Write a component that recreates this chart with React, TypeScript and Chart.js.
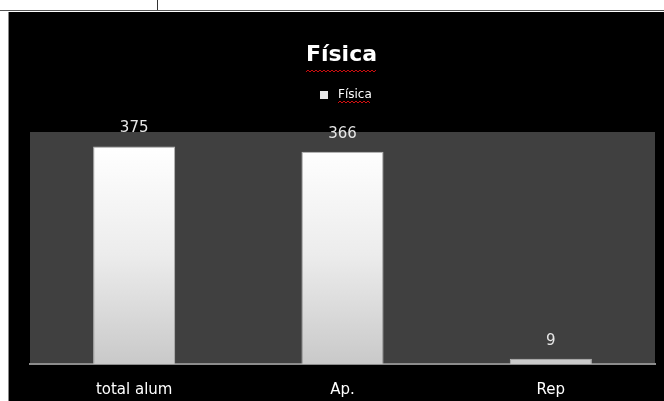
import React, { useEffect, useRef } from 'react';
import { Chart, registerables } from 'chart.js';
Chart.register(...registerables);

const categories = ['total alum', 'Ap.', 'Rep'];
const values = [375, 366, 9];
const seriesName = 'Física';
const titleText = 'Física';
const yMin = 0;
const yMax = 400;

const FONT = '"DejaVu Sans", Verdana, sans-serif';

function squiggle(ctx: CanvasRenderingContext2D, x0: number, x1: number, y: number) {
  ctx.save();
  ctx.strokeStyle = '#d41010';
  ctx.lineWidth = 1;
  ctx.beginPath();
  let up = true;
  ctx.moveTo(x0, y + 2);
  for (let x = x0 + 2; x <= x1; x += 2) {
    ctx.lineTo(x, up ? y : y + 2);
    up = !up;
  }
  ctx.stroke();
  ctx.restore();
}

export default function App() {
  const ref = useRef<HTMLCanvasElement>(null);
  useEffect(() => {
    const canvas = ref.current!;
    const bgPlugin = {
      id: 'bg',
      beforeDraw(chart: any) {
        const { ctx, chartArea: a, width, height } = chart;
        ctx.save();
        ctx.fillStyle = '#000';
        ctx.fillRect(0, 0, width, height);
        ctx.fillStyle = '#404040';
        ctx.fillRect(a.left, a.top, a.right - a.left, a.bottom - a.top);
        ctx.restore();
      },
    };
    const textPlugin = {
      id: 'texts',
      afterDraw(chart: any) {
        const { ctx, chartArea: a } = chart;
        const cx = (a.left + a.right) / 2 - 1;
        ctx.save();
        // title
        ctx.font = `bold 22px ${FONT}`;
        ctx.fillStyle = '#ffffff';
        ctx.textAlign = 'center';
        ctx.textBaseline = 'middle';
        ctx.fillText(titleText, cx, 43);
        const tw = ctx.measureText(titleText).width;
        squiggle(ctx, cx - tw / 2, cx + tw / 2, 58);
        // legend
        ctx.font = `12px ${FONT}`;
        const lw = ctx.measureText(seriesName).width;
        const lx = 311;
        ctx.fillStyle = '#e8e8e8';
        ctx.fillRect(lx, 79, 8, 8);
        ctx.fillStyle = '#ffffff';
        ctx.textAlign = 'left';
        ctx.fillText(seriesName, lx + 18, 83);
        squiggle(ctx, lx + 18, lx + 18 + lw, 89);
        ctx.restore();
      },
      afterDatasetsDraw(chart: any) {
        const { ctx } = chart;
        const meta = chart.getDatasetMeta(0);
        ctx.save();
        ctx.font = `15px ${FONT}`;
        ctx.fillStyle = '#e6e6e6';
        ctx.textAlign = 'center';
        ctx.textBaseline = 'middle';
        meta.data.forEach((el: any, i: number) => {
          ctx.fillText(String(values[i]), el.x, el.y - 18);
        });
        ctx.restore();
      },
    };
    const chart = new Chart(canvas, {
      type: 'bar',
      data: {
        labels: categories,
        datasets: [
          {
            label: seriesName,
            data: values,
            backgroundColor: (c: any) => {
              const a = c.chart.chartArea;
              if (!a) return '#eeeeee';
              const g = c.chart.ctx.createLinearGradient(0, a.top + 15, 0, a.bottom);
              g.addColorStop(0, '#ffffff');
              g.addColorStop(0.5, '#ececec');
              g.addColorStop(1, '#c9c9c9');
              return g;
            },
            borderColor: '#b8b8b8',
            borderWidth: 1,
            categoryPercentage: 1,
            barPercentage: 0.394,
          },
        ],
      },
      options: {
        animation: false,
        responsive: false,
        devicePixelRatio: 1,
        layout: { padding: { left: 21, right: 9, top: 120, bottom: -15 } },
        plugins: {
          legend: { display: false },
          title: { display: false },
          tooltip: { enabled: false },
        },
        scales: {
          x: {
            grid: { display: false, drawTicks: false },
            border: { display: true, color: '#8c8c8c', width: 2 },
            ticks: { color: '#ffffff', font: { family: FONT, size: 15 }, padding: 17 },
          },
          y: { display: false, min: yMin, max: yMax },
        },
      },
      plugins: [bgPlugin, textPlugin],
    });
    return () => chart.destroy();
  }, []);

  return (
    <div style={{ position: 'absolute', left: 0, top: 0, width: 664, height: 401, background: '#ffffff', overflow: 'hidden' }}>
      <div style={{ position: 'absolute', left: 0, top: 10, width: 664, height: 1, background: '#555' }} />
      <div style={{ position: 'absolute', left: 157, top: 0, width: 1, height: 10, background: '#333' }} />
      <div style={{ position: 'absolute', left: 8, top: 12, width: 1, height: 389, background: '#888' }} />
      <canvas ref={ref} width={655} height={389} style={{ position: 'absolute', left: 9, top: 12, display: 'block' }} />
    </div>
  );
}
